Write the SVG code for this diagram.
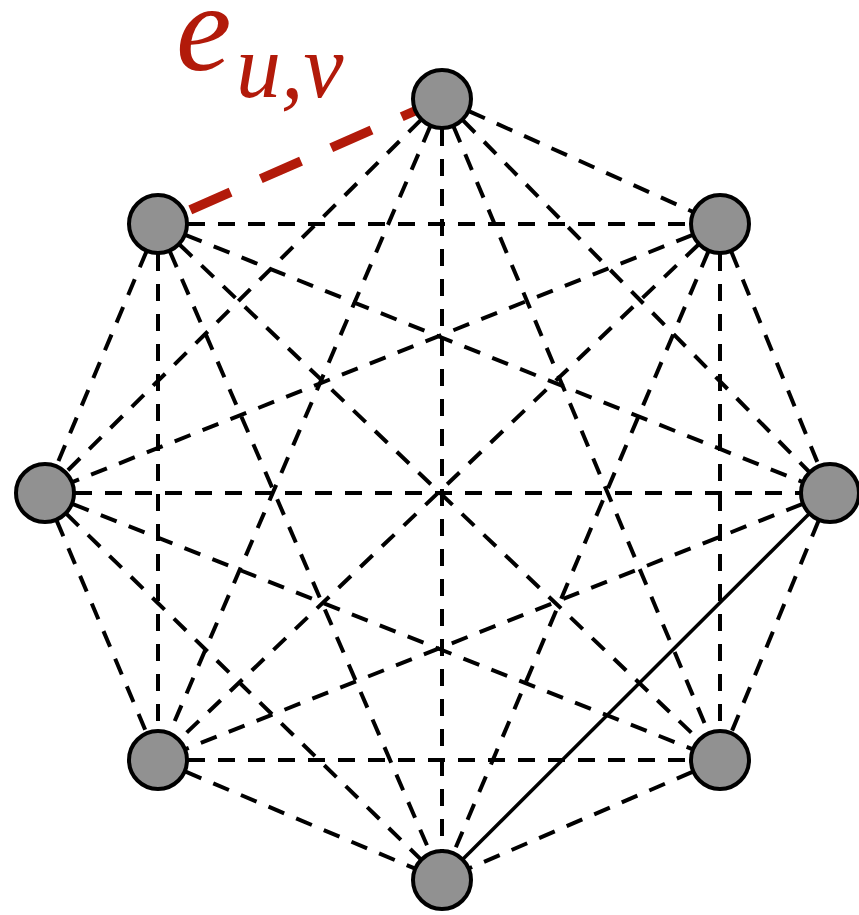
<svg xmlns="http://www.w3.org/2000/svg" width="859" height="915" viewBox="0 0 859 915">
<style>
.e{stroke:#000;stroke-width:4;stroke-dasharray:17 13;fill:none}
.s{stroke:#000;stroke-width:3.5;fill:none}
.r{stroke:#B21A0A;stroke-width:9.5;stroke-dasharray:44 33;fill:none}
.n{fill:#919191;stroke:#000;stroke-width:4}
.lbl{fill:#B21A0A;font-family:"Liberation Serif",serif;font-style:italic}
</style>
<rect width="859" height="915" fill="#fff"/>
<g id="connectors">
<line class="e" x1="442" y1="99" x2="720" y2="224"/>
<line class="e" x1="442" y1="99" x2="45" y2="493"/>
<line class="e" x1="442" y1="99" x2="830" y2="493"/>
<line class="e" x1="442" y1="99" x2="158" y2="760"/>
<line class="e" x1="442" y1="99" x2="720" y2="760"/>
<line class="e" x1="442" y1="99" x2="442" y2="880"/>
<line class="e" x1="158" y1="224" x2="720" y2="224"/>
<line class="e" x1="158" y1="224" x2="45" y2="493"/>
<line class="e" x1="158" y1="224" x2="830" y2="493"/>
<line class="e" x1="158" y1="224" x2="158" y2="760"/>
<line class="e" x1="158" y1="224" x2="720" y2="760"/>
<line class="e" x1="158" y1="224" x2="442" y2="880"/>
<line class="e" x1="720" y1="224" x2="45" y2="493"/>
<line class="e" x1="720" y1="224" x2="830" y2="493"/>
<line class="e" x1="720" y1="224" x2="158" y2="760"/>
<line class="e" x1="720" y1="224" x2="720" y2="760"/>
<line class="e" x1="720" y1="224" x2="442" y2="880"/>
<line class="e" x1="45" y1="493" x2="830" y2="493"/>
<line class="e" x1="45" y1="493" x2="158" y2="760"/>
<line class="e" x1="45" y1="493" x2="720" y2="760"/>
<line class="e" x1="45" y1="493" x2="442" y2="880"/>
<line class="e" x1="830" y1="493" x2="158" y2="760"/>
<line class="e" x1="830" y1="493" x2="720" y2="760"/>
<line class="e" x1="158" y1="760" x2="720" y2="760"/>
<line class="e" x1="158" y1="760" x2="442" y2="880"/>
<line class="e" x1="720" y1="760" x2="442" y2="880"/>
<line class="s" x1="830" y1="493" x2="442" y2="880"/>
<line class="r" x1="442" y1="99" x2="158" y2="224"/>
</g>
<g id="n-top"><circle class="n" cx="442" cy="99" r="29"/></g>
<g id="n-upper-left"><circle class="n" cx="158" cy="224" r="29"/></g>
<g id="n-upper-right"><circle class="n" cx="720" cy="224" r="29"/></g>
<g id="n-left"><circle class="n" cx="45" cy="493" r="29"/></g>
<g id="n-right"><circle class="n" cx="830" cy="493" r="29"/></g>
<g id="n-lower-left"><circle class="n" cx="158" cy="760" r="29"/></g>
<g id="n-lower-right"><circle class="n" cx="720" cy="760" r="29"/></g>
<g id="n-bottom"><circle class="n" cx="442" cy="880" r="29"/></g>
<g id="label">
<text class="lbl" x="176" y="70" font-size="125">e</text>
<text class="lbl" x="236" y="97" font-size="90">u,v</text>
</g>
</svg>
